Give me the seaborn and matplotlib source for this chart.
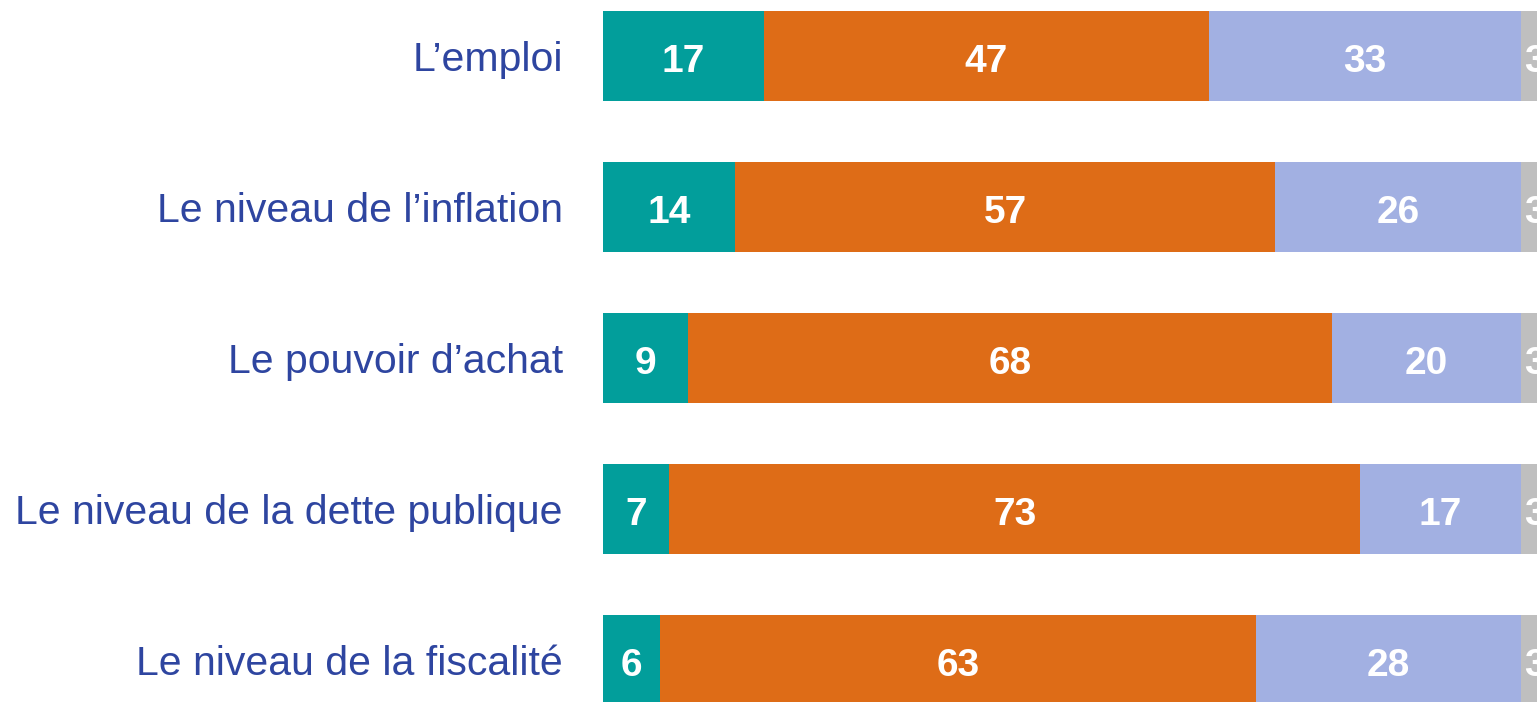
import matplotlib
matplotlib.use("Agg")
import matplotlib.pyplot as plt
import seaborn as sns
import pandas as pd
import numpy as np

categories = ["L’emploi", "Le niveau de l’inflation", "Le pouvoir d’achat",
              "Le niveau de la dette publique", "Le niveau de la fiscalité"]
series_names = ["s1", "s2", "s3", "s4"]
s1 = [17, 14, 9, 7, 6]
s2 = [47, 57, 68, 73, 63]
s3 = [33, 26, 20, 17, 28]
s4 = [3, 3, 3, 3, 3]
colors = ["#029E9B", "#DE6C17", "#A2B0E2", "#BFBFBF"]

sns.set_theme(style="white")
plt.rcParams['font.family'] = ['Liberation Sans', 'DejaVu Sans']

fig = plt.figure(figsize=(15.37, 7.02), dpi=100)
ax = fig.add_axes([603/1537, 0, 1 - 603/1537, 1])

values = [s1, s2, s3, s4]
left = np.zeros(len(categories))
for name, vals, col in zip(series_names, values, colors):
    df = pd.DataFrame({"cat": categories, "val": np.array(vals) + left})
    sns.barplot(data=df, x="val", y="cat", color=col, orient="h", width=0.6,
                ax=ax, saturation=1)
    left = left + np.array(vals)

# cumulative bars: earlier series drawn on top
n = len(categories)
for i, p in enumerate(ax.patches):
    p.set_zorder(10 - i // n)
    p.set_edgecolor("none")

left = np.zeros(len(categories))
for vals in values:
    for j, v in enumerate(vals):
        ax.text(left[j] + v / 2, j + 0.106, str(v), ha="center", va="baseline",
                color="white", fontsize=28, fontweight="bold", zorder=20)
    left = left + np.array(vals)

ax.set_xlim(0, 98.7)
ax.set_ylim(4.278, -0.371)
ax.set_xlabel("")
ax.set_ylabel("")
ax.set_xticks([])
ax.tick_params(axis="y", length=0, pad=29, labelsize=29.5, labelcolor="#2E45A0")
for s in ax.spines.values():
    s.set_visible(False)

fig.savefig("out.png", dpi=100)
